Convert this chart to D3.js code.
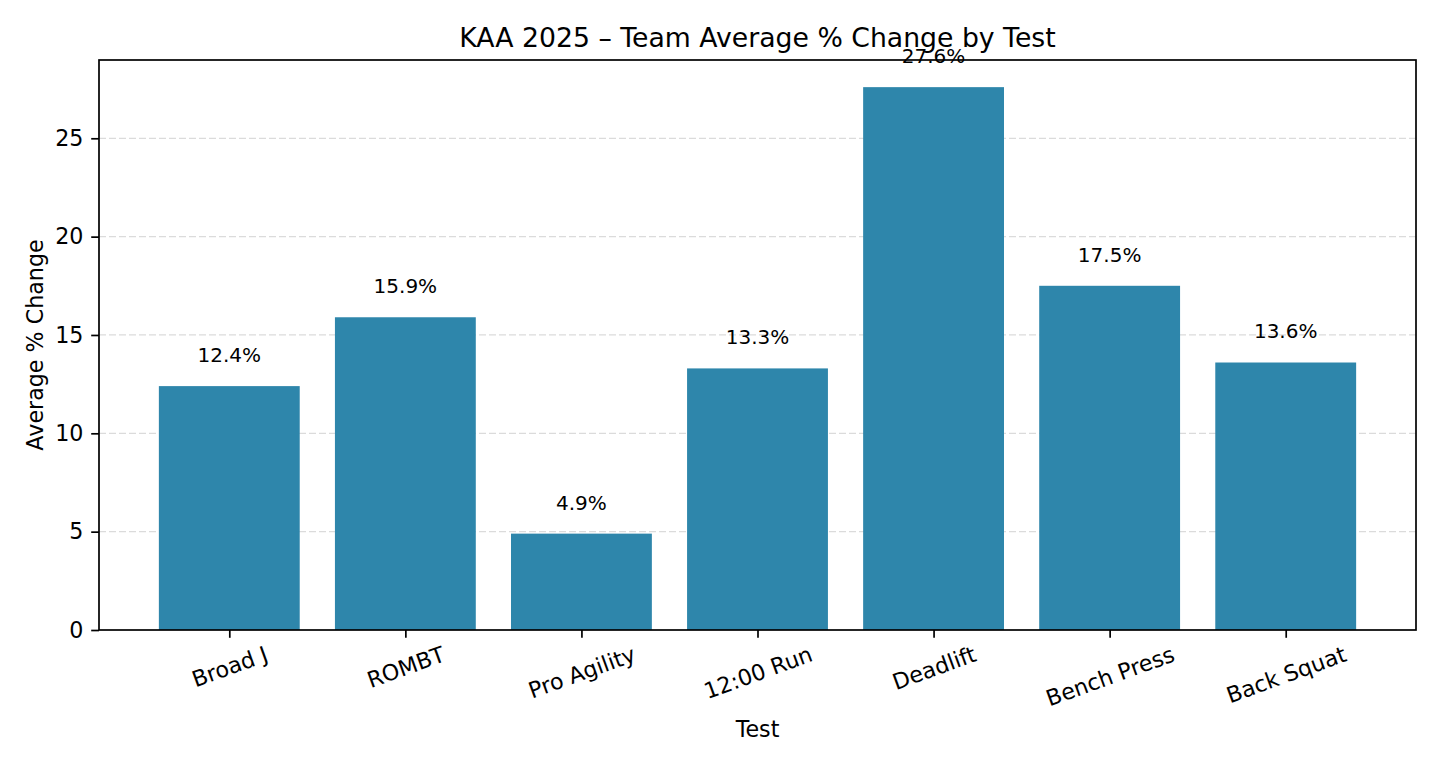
<!DOCTYPE html>
<html>
<head>
<meta charset="utf-8">
<script src="https://cdn.jsdelivr.net/npm/d3@7"></script>
<style>
  html, body { margin: 0; padding: 0; background: #fff; }
  svg { display: block; font-family: "DejaVu Sans", sans-serif; }
</style>
</head>
<body>
<svg id="chart" width="1440" height="768"></svg>
<script>
const categories = ["Broad J", "ROMBT", "Pro Agility", "12:00 Run", "Deadlift", "Bench Press", "Back Squat"];
const values = [12.4, 15.9, 4.9, 13.3, 27.6, 17.5, 13.6];
const yTicks = [0, 5, 10, 15, 20, 25];
const titleText = "KAA 2025 – Team Average % Change by Test";
const xLabel = "Test";
const yLabel = "Average % Change";

(function () {
const svg = d3.select("#chart");
const mLeft = 99, mRight = 1416, mTop = 60, mBottom = 630;
const barColor = "#2E86AB";
const tickFs = 22.2, titleFs = 26.7, labelFs = 20, axisFs = 22.2;

const yMax = d3.max(values) * 1.05;
const y = d3.scaleLinear().domain([0, yMax]).range([mBottom, mTop]);
const x = d3.scaleLinear().domain([-0.74, categories.length - 1 + 0.74]).range([mLeft, mRight]);
const bw = x(0.4) - x(-0.4);

// grid
svg.append("g").selectAll("line").data(yTicks.filter(d => d > 0)).join("line")
  .attr("x1", mLeft).attr("x2", mRight)
  .attr("y1", d => y(d)).attr("y2", d => y(d))
  .attr("stroke", "#b0b0b0").attr("stroke-opacity", 0.45)
  .attr("stroke-width", 1.2).attr("stroke-dasharray", "7,3");

// bars
svg.append("g").selectAll("rect").data(values).join("rect")
  .attr("x", (d, i) => x(i) - bw / 2)
  .attr("width", bw)
  .attr("y", d => y(d))
  .attr("height", d => y(0) - y(d))
  .attr("fill", barColor);

// bar labels
svg.append("g").selectAll("text").data(values).join("text")
  .attr("x", (d, i) => x(i))
  .attr("y", d => y(d + 1) - 0.22 * labelFs)
  .attr("text-anchor", "middle")
  .attr("font-size", labelFs)
  .attr("fill", "#000")
  .text(d => d.toFixed(1) + "%");

// y axis
const yAxis = d3.axisLeft(y).tickValues(yTicks).tickSize(7.8).tickPadding(7.8).tickFormat(d3.format("d"));
const gy = svg.append("g").attr("transform", `translate(${mLeft},0)`).call(yAxis);
gy.select(".domain").remove();
gy.selectAll(".tick line").attr("stroke", "#000").attr("stroke-width", 1.7);
gy.selectAll(".tick text").attr("font-size", tickFs).attr("font-family", "DejaVu Sans").attr("fill", "#000");

// x axis
const xAxis = d3.axisBottom(x).tickValues(d3.range(categories.length)).tickSize(7.8).tickFormat(i => categories[i]);
const gx = svg.append("g").attr("transform", `translate(0,${mBottom})`).call(xAxis);
gx.select(".domain").remove();
gx.selectAll(".tick line").attr("stroke", "#000").attr("stroke-width", 1.7);
gx.selectAll(".tick text")
  .attr("font-size", tickFs).attr("font-family", "DejaVu Sans").attr("fill", "#000")
  .attr("text-anchor", "middle").attr("dy", null).attr("y", null)
  .attr("dominant-baseline", "central")
  .each(function() {
    const t = d3.select(this);
    const w = this.getComputedTextLength();
    const h = 1.1 * tickFs;
    const a = 20 * Math.PI / 180;
    const bh = w * Math.sin(a) + h * Math.cos(a);
    t.attr("transform", `translate(0,${11.5 + bh / 2}) rotate(-20)`);
  });

// frame
svg.append("rect").attr("x", mLeft).attr("y", mTop)
  .attr("width", mRight - mLeft).attr("height", mBottom - mTop)
  .attr("fill", "none").attr("stroke", "#000").attr("stroke-width", 1.7);

// title
svg.append("text").attr("x", (mLeft + mRight) / 2).attr("y", 47)
  .attr("text-anchor", "middle").attr("font-size", titleFs).attr("fill", "#000")
  .text(titleText);

// axis labels
svg.append("text").attr("x", (mLeft + mRight) / 2).attr("y", 737)
  .attr("text-anchor", "middle").attr("font-size", axisFs).attr("fill", "#000")
  .text(xLabel);
svg.append("text").attr("transform", `translate(43,${(mTop + mBottom) / 2}) rotate(-90)`)
  .attr("text-anchor", "middle").attr("font-size", axisFs).attr("fill", "#000")
  .text(yLabel);
})();
</script>
</body>
</html>
